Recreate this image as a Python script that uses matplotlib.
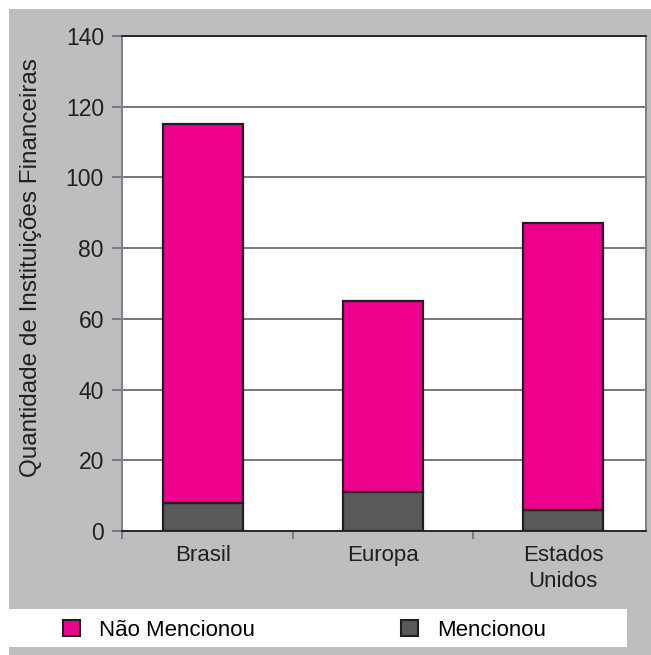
import matplotlib.pyplot as plt
from matplotlib.patches import Rectangle, Patch

plt.rcParams['font.family'] = ['Liberation Sans', 'DejaVu Sans']

# data
regioes = ['Brasil', 'Europa', 'Estados\nUnidos']
mencionou = [8, 11, 6]
nao_mencionou = [107, 54, 81]

rosa = '#EC008C'
cinza_escuro = '#58595B'
fundo = '#BCBEC0'
borda = '#231F20'

W, H = 651, 655
fig = plt.figure(figsize=(W / 100, H / 100), dpi=100, facecolor='white')

# gray panel and white legend strip
fig.add_artist(Rectangle((9 / W, 0), 1 - 9 / W, 1 - 9 / H,
                         transform=fig.transFigure, facecolor=fundo,
                         edgecolor='none', zorder=-10))
fig.add_artist(Rectangle((9 / W, 1 - 647 / H), (627 - 9) / W, 38 / H,
                         transform=fig.transFigure, facecolor='white',
                         edgecolor='none', zorder=-9))

ax = fig.add_axes([122 / W, 1 - 531 / H, 523.5 / W, 495 / H])
ax.set_facecolor('white')

x = list(range(len(regioes)))
ax.bar(x, mencionou, width=0.444, color=cinza_escuro, edgecolor=borda,
       linewidth=1.6, zorder=3)
ax.bar(x, nao_mencionou, width=0.444, bottom=mencionou, color=rosa,
       edgecolor=borda, linewidth=1.6, zorder=3)

ax.set_xlim(-0.45, 2.456)
ax.set_ylim(0, 140)
ax.set_yticks(range(0, 141, 20))
ax.yaxis.grid(True, color='#6D6E71', linewidth=1.3, zorder=0)
ax.set_axisbelow(True)

ax.set_xticks(x, regioes)
ax.set_xticks([-0.45, 0.5, 1.5], minor=True)
ax.tick_params(axis='x', which='major', length=0, pad=10, labelsize=16,
               colors='#231F20')
ax.tick_params(axis='x', which='minor', length=6, width=1.2, color='#6D6E71')
ax.tick_params(axis='y', length=7, width=1.2, color='#6D6E71', pad=6,
               labelsize=16.5, labelcolor='#231F20')
for lab in ax.get_xticklabels():
    lab.set_linespacing(1.35)

for s in ['left', 'right']:
    ax.spines[s].set_color('#808285')
    ax.spines[s].set_linewidth(1.5)
ax.spines['top'].set_color(borda)
ax.spines['top'].set_linewidth(1.3)
ax.spines['bottom'].set_color(borda)
ax.spines['bottom'].set_linewidth(1.3)

ax.set_ylabel('Quantidade de Instituições Financeiras', fontsize=17.5,
              color='#231F20')
ax.yaxis.set_label_coords(-0.152, 0.533)

handles = [Patch(facecolor=rosa, edgecolor=borda, linewidth=1.5),
           Patch(facecolor=cinza_escuro, edgecolor=borda, linewidth=1.5)]
fig.legend(handles, ['Não Mencionou', 'Mencionou'], ncol=2, frameon=False,
           loc='center left', bbox_to_anchor=(63 / W, 1 - 630 / H),
           fontsize=16, handlelength=0.75, handleheight=0.75,
           handletextpad=0.85, columnspacing=6.6, borderaxespad=0,
           borderpad=0)

fig.savefig('out.png', dpi=100, facecolor='white')
